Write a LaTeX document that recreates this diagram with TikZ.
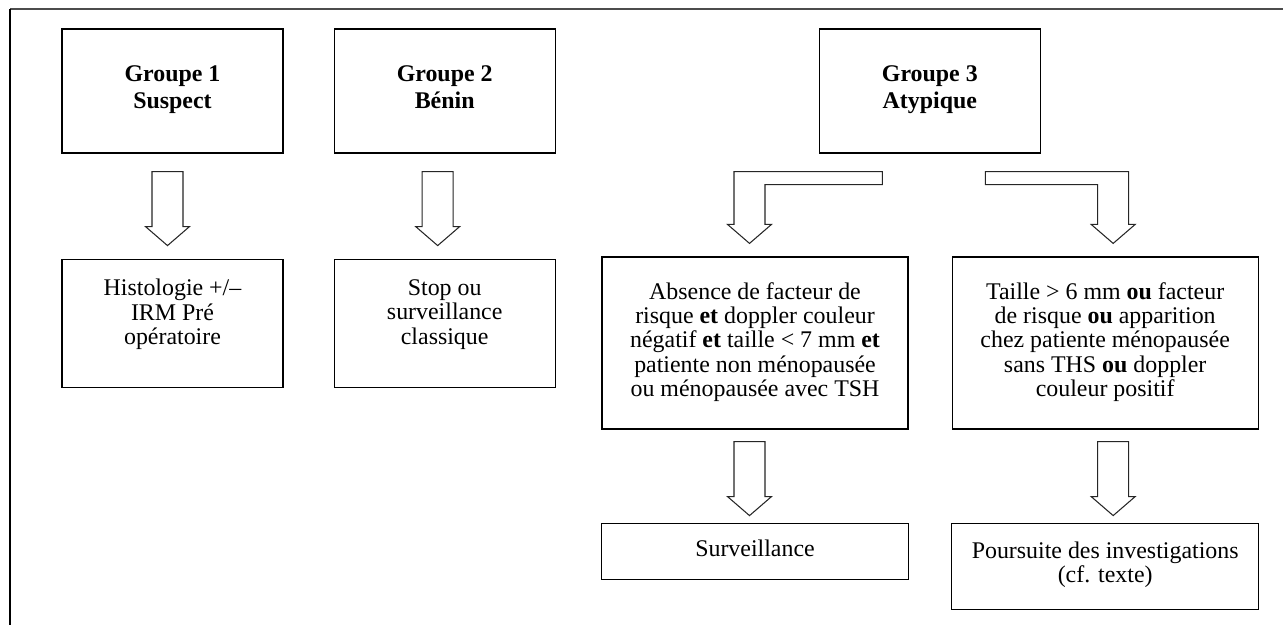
\documentclass[tikz,border=0pt]{standalone}
\usepackage{fontspec}
\setmainfont{Liberation Serif}
\usetikzlibrary{calc, positioning}
\tikzset{
	groupbox/.style ={rectangle, draw=black, line width=0.7pt, minimum width=4.42cm, minimum height=2.48cm, align=center, inner sep=0pt, font=\fontsize{13.6}{15.6}\selectfont\bfseries, execute at begin node=\strut, execute at end node=\strut},
	smallbox/.style ={rectangle, draw=black, line width=0.7pt, minimum width=4.42cm, minimum height=2.56cm, align=center, inner sep=0pt, font=\fontsize{13.6}{13.8}\selectfont, execute at begin node=\strut, execute at end node=\strut},
	widebox/.style  ={smallbox, minimum width=6.12cm, minimum height=3.44cm},
	hollow/.style   ={draw=black!85, line width=0.6pt, line join=miter, fill=white},
	frameline/.style={draw=black!70, line width=1.1pt},
}
% straight block arrow: #1 top of the shaft, #2 tip
\newcommand{\hollowarrow}[2]{%
	\draw[hollow] let \p1=(#1), \p2=(#2) in
		(\x2-0.31cm,\y1) -- (\x2+0.31cm,\y1) -- (\x2+0.31cm,\y2+0.38cm) -- (\x2+0.44cm,\y2+0.38cm)
		-- (\x2,\y2) -- (\x2-0.44cm,\y2+0.38cm) -- (\x2-0.31cm,\y2+0.38cm) -- cycle;}
% bent block arrow: #1 inner end of the bar, #2 tip, #3 side (1 = left, -1 = right)
\newcommand{\bentarrow}[3]{%
	\draw[hollow] let \p1=(#1), \p2=(#2) in
		(\x1,\y1) -- ({\x2-(#3)*0.31cm},\y1) -- ({\x2-(#3)*0.31cm},\y2+0.38cm) -- ({\x2-(#3)*0.44cm},\y2+0.38cm)
		-- (\x2,\y2) -- ({\x2+(#3)*0.44cm},\y2+0.38cm) -- ({\x2+(#3)*0.31cm},\y2+0.38cm)
		-- ({\x2+(#3)*0.31cm},\y1-0.26cm) -- (\x1,\y1-0.26cm) -- cycle;}

\begin{document}
\begin{tikzpicture}[x=0.02cm, y=-0.02cm]
	\useasboundingbox (0,0) rectangle (1283,625);
	\draw[frameline] (10,9) -- (1283,9);
	\draw[black, line width=0.6pt] (10,9) -- (10,625);
	% groups
	\node[groupbox] (g1) at (172.5,91) {Groupe 1\\Suspect};
	\node[groupbox, right=1cm of g1] (g2) {Groupe 2\\Bénin};
	\node[groupbox, right=5.26cm of g2] (g3) {Groupe 3\\Atypique};
	% outcomes
	\node[smallbox, below=2.1cm of g1] (histo) {Histologie +/–\\IRM Pré\\opératoire\\[-0.18cm]};
	\node[smallbox, below=2.1cm of g2] (stop) {Stop ou\\surveillance\\classique\\[-0.18cm]};
	\node[widebox] (absence) at (755,343) {Absence de facteur de\\risque \textbf{et} doppler couleur\\négatif \textbf{et} taille < 7 mm \textbf{et}\\patiente non ménopausée\\ou ménopausée avec TSH};
	\node[widebox, right=0.86cm of absence] (taille) {Taille > 6 mm \textbf{ou} facteur\\de risque \textbf{ou} apparition\\chez patiente ménopausée\\sans THS \textbf{ou} doppler\\couleur positif};
	\node[smallbox, minimum width=6.14cm, minimum height=1.12cm, below=1.86cm of absence] (surv) {Surveillance};
	\node[smallbox, minimum width=6.14cm, minimum height=1.72cm, below=1.86cm of taille] (pours) {Poursuite des investigations\\(cf. texte)};
	% arrows
	\hollowarrow{$(g1.south)+(0,18)$}{$(histo.north)+(-5,-13)$}
	\hollowarrow{$(g2.south)+(0,18)$}{$(stop.north)+(-7,-13)$}
	\bentarrow{$(g3.south)+(-47.5,18)$}{$(absence.north)+(-5.5,-13)$}{1}
	\bentarrow{$(g3.south)+(55.5,18)$}{$(taille.north)+(8,-13)$}{-1}
	\hollowarrow{$(absence.south)+(0,12)$}{$(surv.north)+(-5.5,-7)$}
	\hollowarrow{$(taille.south)+(0,12)$}{$(pours.north)+(8,-7)$}
\end{tikzpicture}
\end{document}
